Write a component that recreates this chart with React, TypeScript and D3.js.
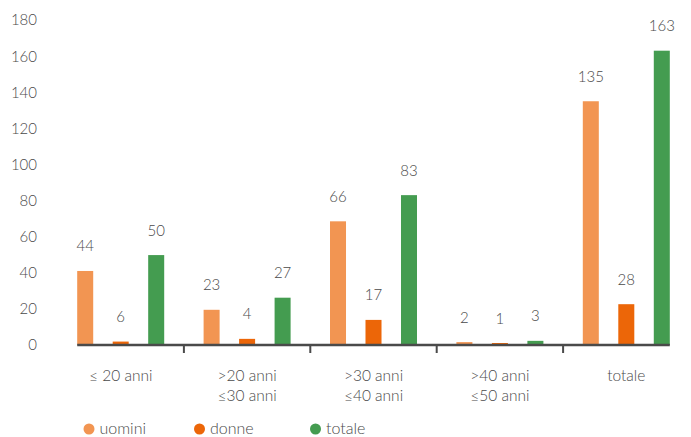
import React from "react";
import * as d3 from "d3";

const categories: string[][] = [
  ["≤ 20 anni"],
  [">20 anni", "≤30 anni"],
  [">30 anni", "≤40 anni"],
  [">40 anni", "≤50 anni"],
  ["totale"],
];
const seriesNames = ["uomini", "donne", "totale"];
const seriesColors = ["#F29552", "#EC6608", "#449C50"];

// bar heights as drawn in the picture
const uominiBar = [41, 19.5, 68.5, 1.6, 135];
const donneBar = [1.9, 3.4, 13.9, 1.1, 22.6];
const totaleBar = [49.8, 26.2, 83, 2.3, 163];
// value labels printed above the bars
const uominiLabel = [44, 23, 66, 2, 135];
const donneLabel = [6, 4, 17, 1, 28];
const totaleLabel = [50, 27, 83, 3, 163];

const yTicks = [0, 20, 40, 60, 80, 100, 120, 140, 160, 180];

const W = 691;
const H = 437;
const FONT = "Lato, 'Open Sans', sans-serif";
const TEXT = "#4a4a4a";
const AXIS = "#4a4a4a";

export default function App() {
  const bars = [uominiBar, donneBar, totaleBar];
  const labels = [uominiLabel, donneLabel, totaleLabel];
  const keys = categories.map((c) => c.join(" "));

  const y = d3.scaleLinear().domain([0, 180]).range([345, 20]);
  const x0 = d3.scaleBand<string>().domain(keys).range([57.5, 689.5]);
  const bw = x0.bandwidth();
  const x1 = d3
    .scaleBand<string>()
    .domain(seriesNames)
    .range([(bw - 87) / 2, (bw + 87) / 2])
    .paddingInner(0.549)
    .paddingOuter(0);

  const axisStart = (x0(keys[0]) ?? 0) + (x1(seriesNames[0]) ?? 0);
  const axisEnd =
    (x0(keys[keys.length - 1]) ?? 0) + (x1(seriesNames[2]) ?? 0) + x1.bandwidth();

  const legendX = [89, 199.5, 315.5];

  return (
    <svg
      width={W}
      height={H}
      style={{ position: "absolute", left: 0, top: 0, background: "#fff" }}
      fontFamily={FONT}
      fontWeight={300}
    >
      {/* y tick labels */}
      {yTicks.map((t) => (
        <text
          key={t}
          x={37}
          y={y(t) + 5.4}
          textAnchor="end"
          fontSize={15}
          fill={TEXT}
        >
          {t}
        </text>
      ))}

      {/* bars */}
      {keys.map((k, ci) => (
        <g key={k} transform={`translate(${x0(k)},0)`}>
          {seriesNames.map((s, si) => {
            const v = bars[si][ci];
            const bx = x1(s) ?? 0;
            return (
              <g key={s}>
                <rect
                  x={bx}
                  y={y(v)}
                  width={x1.bandwidth()}
                  height={y(0) - y(v)}
                  fill={seriesColors[si]}
                />
                <text
                  x={bx + x1.bandwidth() / 2}
                  y={y(v) - 19.5}
                  textAnchor="middle"
                  fontSize={15}
                  fill={TEXT}
                >
                  {labels[si][ci]}
                </text>
              </g>
            );
          })}
        </g>
      ))}

      {/* x axis */}
      <line
        x1={axisStart}
        x2={axisEnd}
        y1={y(0)}
        y2={y(0)}
        stroke={AXIS}
        strokeWidth={2.5}
      />
      {keys.slice(1).map((k) => (
        <line
          key={k}
          x1={x0(k)}
          x2={x0(k)}
          y1={y(0)}
          y2={y(0) + 8}
          stroke={AXIS}
          strokeWidth={2}
        />
      ))}

      {/* category labels */}
      {categories.map((lines, ci) => (
        <text
          key={ci}
          x={(x0(keys[ci]) ?? 0) + bw / 2}
          textAnchor="middle"
          fontSize={15.5}
          fill={TEXT}
        >
          {lines.map((ln, li) => (
            <tspan key={li} x={(x0(keys[ci]) ?? 0) + bw / 2} y={381 + li * 20}>
              {ln}
            </tspan>
          ))}
        </text>
      ))}

      {/* legend */}
      {seriesNames.map((s, si) => (
        <g key={s}>
          <circle cx={legendX[si]} cy={429} r={5.5} fill={seriesColors[si]} />
          <text x={legendX[si] + 10.5} y={434} fontSize={16} fill={TEXT}>
            {s}
          </text>
        </g>
      ))}
    </svg>
  );
}
